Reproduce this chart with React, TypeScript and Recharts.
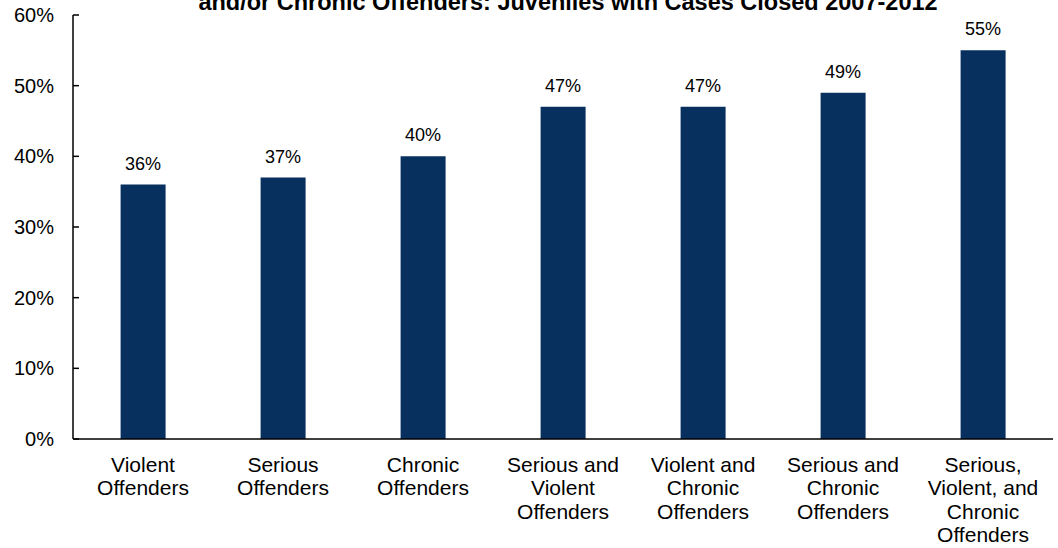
import { BarChart, Bar, XAxis, YAxis, LabelList } from "recharts"

const categories = [
  "Violent\nOffenders",
  "Serious\nOffenders",
  "Chronic\nOffenders",
  "Serious and\nViolent\nOffenders",
  "Violent and\nChronic\nOffenders",
  "Serious and\nChronic\nOffenders",
  "Serious,\nViolent, and\nChronic\nOffenders",
]
const rates = [36, 37, 40, 47, 47, 49, 55]
const yTicks = [0, 10, 20, 30, 40, 50, 60]
const title = "and/or Chronic Offenders: Juveniles with Cases Closed 2007-2012"

const data = categories.map((name, i) => ({ name, value: rates[i] }))

const FONT = "Arial, 'Liberation Sans', sans-serif"

function YTick(props: any) {
  const { x, y, payload } = props
  return (
    <g>
      <text x={x} y={y} dy={7} textAnchor="end" fontSize={20} fill="#000" fontFamily={FONT}>
        {payload.value}%
      </text>
      <line x1={x + 19} x2={x + 25} y1={y} y2={y} stroke="#000" strokeWidth={1.5} />
    </g>
  )
}

function XTick(props: any) {
  const { x, y, payload } = props
  const lines = String(payload.value).split("\n")
  return (
    <text x={x} y={y} textAnchor="middle" fontSize={21} fill="#000" fontFamily={FONT}>
      {lines.map((l, i) => (
        <tspan key={i} x={x} dy={i === 0 ? 32.5 : 23.5}>
          {l}
        </tspan>
      ))}
    </text>
  )
}

export default function App() {
  return (
    <div style={{ position: "absolute", left: 0, top: 0, width: 1058, height: 548, background: "#fff", overflow: "hidden" }}>
      <div
        style={{
          position: "absolute",
          top: -9,
          left: 0,
          width: 1136,
          textAlign: "center",
          fontFamily: FONT,
          fontWeight: "bold",
          fontSize: 23.5,
          lineHeight: "23.5px",
          color: "#000",
          whiteSpace: "nowrap",
        }}
      >
        {title}
      </div>
      <BarChart
        width={1058}
        height={548}
        data={data}
        margin={{ top: 15, right: 5, bottom: 0, left: 0 }}
        barCategoryGap="34%"
      >
        <XAxis
          dataKey="name"
          height={109}
          interval={0}
          tickLine={false}
          tickSize={0}
          tickMargin={0}
          tick={<XTick />}
          axisLine={{ stroke: "#000", strokeWidth: 1.5 }}
        />
        <YAxis
          width={73}
          domain={[0, 60]}
          ticks={yTicks}
          interval={0}
          tickLine={false}
          tickSize={0}
          tickMargin={19}
          tick={<YTick />}
          axisLine={{ stroke: "#000", strokeWidth: 1.5 }}
        />
        <Bar dataKey="value" fill="#07305F" isAnimationActive={false}>
          <LabelList
            dataKey="value"
            position="top"
            offset={15}
            formatter={(v: any) => `${v}%`}
            style={{ fontSize: 18, fill: "#000", fontFamily: FONT }}
          />
        </Bar>
      </BarChart>
    </div>
  )
}
